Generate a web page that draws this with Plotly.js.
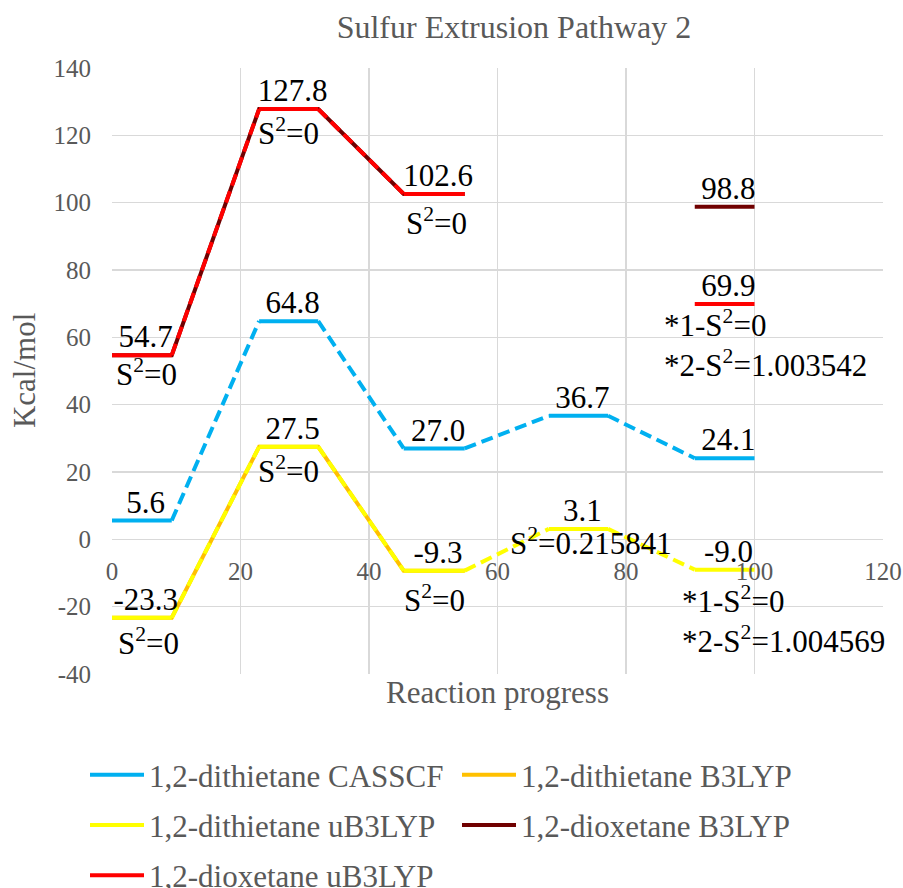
<!DOCTYPE html>
<html><head><meta charset="utf-8">
<script src="https://cdn.plot.ly/plotly-3.0.1.min.js"></script>
<style>html,body{margin:0;padding:0;background:#fff}</style>
</head><body><div id="chart" style="width:903px;height:888px"></div>
<script>
// ---- data ----
const stageStart = [0, 22.9, 45.4, 68.0, 90.7];
const stageEnd   = [9.3, 32.1, 54.9, 77.2, 100];
const casscf     = [5.6, 64.8, 27.0, 36.7, 24.1];
const dithB3LYP  = [-23.3, 27.5, -9.3, null, null];
const dithUB3LYP = [-23.3, 27.5, -9.3, 3.1, -9.0];
const dioxB3LYP  = [54.7, 127.8, 102.6, null, 98.8];
const dioxUB3LYP = [54.7, 127.8, 102.6, null, 69.9];
const names = {
  casscf: '1,2-dithietane CASSCF',
  dithB3: '1,2-dithietane B3LYP',
  dithU: '1,2-dithietane uB3LYP',
  dioxB3: '1,2-dioxetane B3LYP',
  dioxU: '1,2-dioxetane uB3LYP'
};
const xTickVals = [0, 20, 40, 60, 80, 100, 120];
const yTickVals = [-40, -20, 0, 20, 40, 60, 80, 100, 120, 140];
const chartTitle = 'Sulfur Extrusion Pathway 2';
const xTitle = 'Reaction progress';
const yTitle = 'Kcal/mol';
const spinNotes = [
  ['dithU', 0, 'S<sup>2</sup>=0'],
  ['dithU', 1, 'S<sup>2</sup>=0'],
  ['dithU', 2, 'S<sup>2</sup>=0'],
  ['dithU', 3, 'S<sup>2</sup>=0.215841'],
  ['dithU', 4, '*1-S<sup>2</sup>=0<br>*2-S<sup>2</sup>=1.004569'],
  ['dioxU', 0, 'S<sup>2</sup>=0'],
  ['dioxU', 1, 'S<sup>2</sup>=0'],
  ['dioxU', 2, 'S<sup>2</sup>=0'],
  ['dioxU', 4, '*1-S<sup>2</sup>=0<br>*2-S<sup>2</sup>=1.003542']
];

// ---- styling ----
const FONT = 'Liberation Serif';
const GREY = '#595959';
const colors = {casscf:'#00B0F0', dithB3:'#FFC000', dithU:'#FFFF00', dioxB3:'#700000', dioxU:'#FF0000'};
const values = {casscf:casscf, dithB3:dithB3LYP, dithU:dithUB3LYP, dioxB3:dioxB3LYP, dioxU:dioxUB3LYP};
const LW = 4;
const DASH = '12px,6px';
// per-note placement (px offsets): [xshift, yshift, xanchor]
const noteLayout = [
  [7, -24, 'center'], [0, -23, 'center'], [0, -28, 'center'], [13, -13, 'center'],
  [-15, -50, 'left'],
  [2, -17, 'left'], [0, -22, 'center'], [2, -28, 'center'],
  [-33, -39, 'left']
];

function pathXY(v) {
  const x = [], y = [];
  v.forEach((val, i) => {
    if (val === null) { x.push(null); y.push(null); return; }
    x.push(stageStart[i], stageEnd[i]); y.push(val, val);
  });
  return {x, y};
}
function segXY(v) {
  const x = [], y = [];
  v.forEach((val, i) => {
    if (val === null) return;
    x.push(stageStart[i], stageEnd[i], null); y.push(val, val, null);
  });
  return {x, y};
}
function connXY(v) {
  const x = [], y = [];
  for (let i = 0; i < v.length - 1; i++) {
    if (v[i] === null || v[i+1] === null) continue;
    x.push(stageEnd[i], stageStart[i+1], null); y.push(v[i], v[i+1], null);
  }
  return {x, y};
}
function mid(i) { return (stageStart[i] + stageEnd[i]) / 2; }

const traces = [];
['dithB3', 'dioxB3'].forEach((k, j) => {
  const p = pathXY(values[k]);
  traces.push({type:'scatter', mode:'lines', x:p.x, y:p.y, name:names[k], legend:'legend2',
    legendgroup:k, legendrank: j+1, connectgaps:false,
    line:{color:colors[k], width:LW}, hoverinfo:'skip'});
});
['casscf', 'dithU', 'dioxU'].forEach((k, j) => {
  const s = segXY(values[k]);
  const c = connXY(values[k]);
  traces.push({type:'scatter', mode:'lines', x:c.x, y:c.y, showlegend:false, legendgroup:k,
    line:{color:colors[k], width:LW, dash:DASH}, hoverinfo:'skip'});
  traces.push({type:'scatter', mode:'lines', x:s.x, y:s.y, name:names[k], legend:'legend',
    legendgroup:k, legendrank: j+1, line:{color:colors[k], width:LW}, hoverinfo:'skip'});
});
['casscf', 'dithU', 'dioxU', 'dioxB3'].forEach(k => {
  const x = [], y = [], t = [];
  values[k].forEach((val, i) => {
    if (val === null) return;
    if (k === 'dioxB3' && dioxUB3LYP[i] === val) return;
    x.push(mid(i) + 0.6); y.push(val); t.push(val.toFixed(1));
  });
  traces.push({type:'scatter', mode:'text', x, y, text:t, textposition:'top center',
    textfont:{family:FONT, size:31, color:'#000'}, showlegend:false, hoverinfo:'skip', cliponaxis:false});
});
traces.push({type:'scatter', mode:'lines', x:[], y:[], xaxis:'x2', showlegend:false, hoverinfo:'skip'});

const annotations = spinNotes.map((n, i) => {
  const [k, st, text] = n;
  const [dx, dy, xa] = noteLayout[i];
  return {x: xa === 'left' ? stageStart[st] : mid(st), y: values[k][st], xref:'x', yref:'y',
    text, showarrow:false, xanchor:xa, yanchor:'middle', align:'left', xshift:dx, yshift:dy,
    font:{family:FONT, size:31, color:'#000'}};
});
// y-axis title (drawn as a rotated annotation)
annotations.push({text:yTitle, xref:'paper', yref:'paper', x:-0.114, y:0.5, xanchor:'center',
  yanchor:'middle', textangle:-90, showarrow:false, font:{family:FONT, size:31, color:GREY}});

const layout = {
  width:903, height:888,
  margin:{l:112, r:20, t:68, b:214, autoexpand:false},
  paper_bgcolor:'#fff', plot_bgcolor:'#fff',
  font:{family:FONT, color:GREY},
  title:{text:chartTitle, font:{family:FONT, size:32, color:GREY},
    xref:'container', yref:'container', x:514/903, xanchor:'center', y:1-27/888, yanchor:'middle'},
  xaxis:{range:[0,120], tickvals:xTickVals, showticklabels:false, ticks:'', automargin:true,
    showgrid:true, gridcolor:'#D9D9D9', gridwidth:1.3, zeroline:false, showline:false,
    title:{text:xTitle, standoff:7, font:{family:FONT, size:31, color:GREY}}},
  xaxis2:{range:[0,120], tickvals:xTickVals, ticktext:xTickVals.map(String), overlaying:'x',
    anchor:'free', position:40/180, showgrid:false, zeroline:false, showline:false, ticks:'',
    ticklabelstandoff:15, automargin:false, tickfont:{family:FONT, size:25, color:GREY}},
  yaxis:{range:[-40,140], tickvals:yTickVals, ticktext:yTickVals.map(String), showgrid:true,
    gridcolor:'#D9D9D9', gridwidth:1.3, zeroline:false, showline:false, ticks:'',
    ticklabelstandoff:20, automargin:false, tickfont:{family:FONT, size:25, color:GREY}},
  legend:{xref:'container', yref:'container', x:85/903, y:1-748/888, xanchor:'left', yanchor:'top',
    orientation:'v', font:{family:FONT, size:31, color:GREY}, tracegroupgap:7, itemwidth:54,
    bgcolor:'rgba(0,0,0,0)'},
  legend2:{xref:'container', yref:'container', x:457/903, y:1-748/888, xanchor:'left', yanchor:'top',
    orientation:'v', font:{family:FONT, size:31, color:GREY}, tracegroupgap:7, itemwidth:54,
    bgcolor:'rgba(0,0,0,0)'},
  annotations,
  showlegend:true
};
Plotly.newPlot('chart', traces, layout, {staticPlot:true, displayModeBar:false});
</script>
</body></html>
